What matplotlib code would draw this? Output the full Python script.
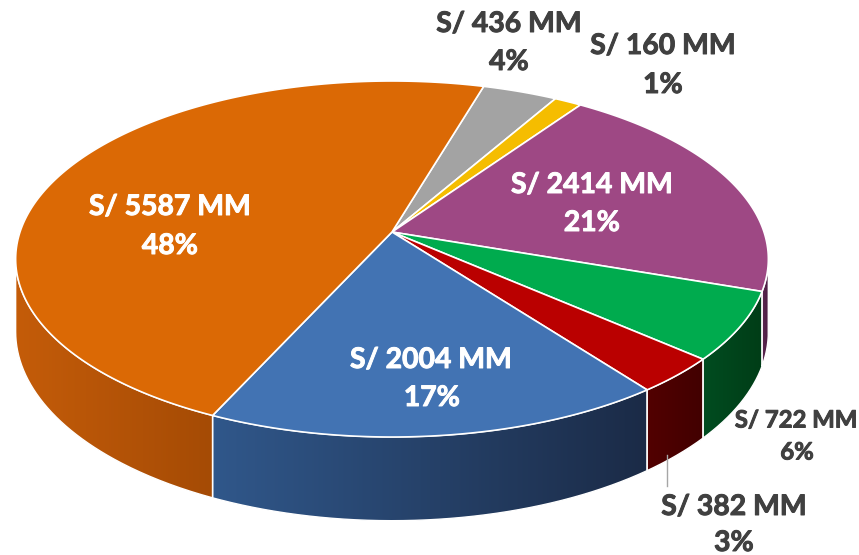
import numpy as np
import matplotlib.pyplot as plt
import matplotlib.patheffects as pe
from matplotlib.patches import Polygon
from matplotlib.colors import to_rgb

# montos en S/ MM, en sentido horario desde la parte superior
montos = [436, 160, 2414, 722, 382, 2004, 5587]
colores = ['#A3A3A3', '#F5BD00', '#9E4884', '#00AB4E', '#BA0000', '#4273B3', '#DB6905']
# color de la pared lateral (izquierda, derecha)
lados = [('#6E6E6E', '#5E5E5E'), ('#A07C00', '#8C6C00'), ('#5C2650', '#4A1E42'),
         ('#004C20', '#003D17'), ('#520000', '#420000'), ('#30578A', '#1B2B47'),
         ('#C45C09', '#A54B05')]

# posicion de etiquetas (px): linea 1 y linea 2
pos_monto = [(509, 24), (663, 46), (592, 185), (796, 420), (734, 507), (431, 360), (170, 207)]
pos_pct = [(509, 62), (663, 85), (592, 223), (797, 452), (734, 543), (432, 398), (170, 246)]
color_txt = ['#404040', '#404040', 'white', '#404040', '#404040', 'white', 'white']
tam_txt = [20.4, 20.4, 20.4, 17.2, 20.4, 20.4, 20.4]

# geometria del pastel 3D (pixeles)
CX, CY = 392, 232
SX, SY = 372, 173.9
K = 0.1517        # perspectiva
T0 = 71           # grosor
INICIO = 73.6


def proj(theta, z=0.0):
    x, y = np.cos(theta), np.sin(theta)
    w = 1 + K * y
    return CX + SX * x / w, CY - SY * y / w + z * T0 / w


def arco(a1, a2, z=0.0, n=200):
    t = np.radians(np.linspace(a1, a2, n))
    px, py = proj(t, z)
    return np.column_stack([px, py])


fig = plt.figure(figsize=(8.59, 5.55), dpi=100)
ax = fig.add_axes([0, 0, 1, 1])

total = sum(montos)
angulos = np.array(montos) / total * 360
fin = INICIO - np.concatenate([[0], np.cumsum(angulos)[:-1]])
ini = fin - angulos

vis_lo = 180 + np.degrees(np.arcsin(K))
vis_hi = 360 - np.degrees(np.arcsin(K))

# paredes laterales con degradado
for i in range(len(montos)):
    for sh in (-360, 0, 360):
        b1 = max(ini[i] + sh, vis_lo)
        b2 = min(fin[i] + sh, vis_hi)
        if b2 <= b1:
            continue
        pts = np.vstack([arco(b1, b2, 0), arco(b1, b2, 1)[::-1]])
        patch = Polygon(pts, closed=True, facecolor='none', edgecolor='none')
        ax.add_patch(patch)
        c1, c2 = np.array(to_rgb(lados[i][0])), np.array(to_rgb(lados[i][1]))
        f = np.linspace(0, 1, 64)[:, None]
        grad = (c1 * (1 - f) + c2 * f)[None, :, :]
        x0, x1 = pts[:, 0].min(), pts[:, 0].max()
        y0, y1 = pts[:, 1].min(), pts[:, 1].max()
        im = ax.imshow(grad, extent=(x0, x1, y1, y0), aspect='auto',
                       interpolation='bilinear', zorder=1)
        im.set_clip_path(patch)
        ax.plot(pts[:, 0].tolist() + [pts[0, 0]], pts[:, 1].tolist() + [pts[0, 1]],
                color='white', lw=1.0, zorder=2)

# caras superiores
for i in range(len(montos)):
    pts = np.vstack([[CX, CY], arco(ini[i], fin[i], 0)])
    ax.add_patch(Polygon(pts, closed=True, facecolor=colores[i],
                         edgecolor='white', lw=1.2, zorder=3))

# linea guia de la etiqueta pequena
ax.plot([667, 667], [455, 486], color='#A6A6A6', lw=1, zorder=4)

for i, m in enumerate(montos):
    pct = round(m / total * 100)
    grueso = [pe.withStroke(linewidth=0.7, foreground=color_txt[i])]
    ax.text(*pos_monto[i], f'S/ {m} MM', ha='center', va='center',
            fontsize=tam_txt[i], fontweight='bold', family='Lato',
            color=color_txt[i], zorder=5, path_effects=grueso)
    ax.text(*pos_pct[i], f'{pct}%', ha='center', va='center',
            fontsize=tam_txt[i], fontweight='bold', family='Lato',
            color=color_txt[i], zorder=5, path_effects=grueso)

ax.set_xlim(0, 859)
ax.set_ylim(555, 0)
ax.axis('off')
fig.savefig('out.png', dpi=100)
